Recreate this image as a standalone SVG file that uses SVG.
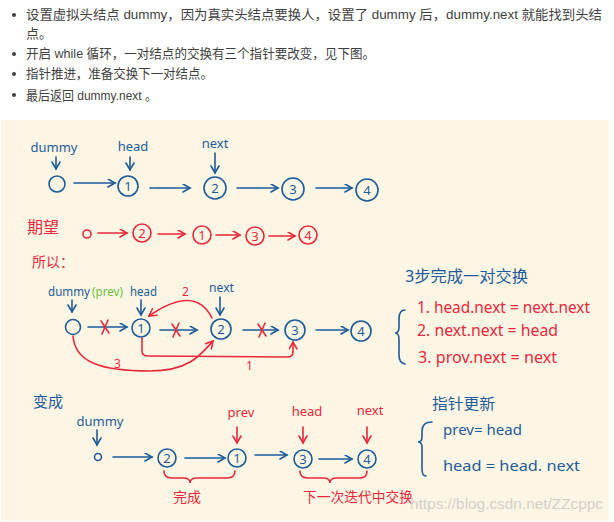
<svg xmlns="http://www.w3.org/2000/svg" width="614" height="522" viewBox="0 0 614 522">
<style>
.hd{font-family:"Liberation Sans","Noto Sans CJK SC",sans-serif;font-size:13px;fill:#3f3f3f}
.b{fill:#1d5b9a}
.r{fill:#e8293b}
.g{fill:#6dbf3d}
.t{font-family:"Noto Sans","Noto Sans CJK SC",sans-serif}
.lb{font-family:"Noto Sans","Noto Sans CJK SC",sans-serif;font-size:13px;text-anchor:middle}
.nb circle{fill:none;stroke:#1d5b9a;stroke-width:1.6}
.nr circle{fill:none;stroke:#e8293b;stroke-width:1.6}
.nb text,.nr text{font-family:"Noto Sans",sans-serif;font-size:13px;text-anchor:middle}
.nb text{fill:#1d5b9a}
.nr text{fill:#e8293b}
.cb{stroke:#1d5b9a;stroke-width:1.6;fill:none;stroke-linecap:round;marker-end:url(#ab)}
.cr{stroke:#e8293b;stroke-width:1.6;fill:none;stroke-linecap:round;marker-end:url(#ar)}
.x{stroke:#e8293b;stroke-width:1.6;stroke-linecap:round}
.br{stroke:#1d5b9a;stroke-width:1.6;fill:none;stroke-linecap:round}
.brr{stroke:#e8293b;stroke-width:1.6;fill:none;stroke-linecap:round}
</style>
<defs>
<marker id="ab" markerUnits="userSpaceOnUse" markerWidth="12" markerHeight="12" refX="8" refY="4.5" orient="auto"><path d="M1,0.5 L8,4.5 L1,8.5" fill="none" stroke="#1d5b9a" stroke-width="1.6" stroke-linecap="round"/></marker>
<marker id="ar" markerUnits="userSpaceOnUse" markerWidth="12" markerHeight="12" refX="8" refY="4.5" orient="auto"><path d="M1,0.5 L8,4.5 L1,8.5" fill="none" stroke="#e8293b" stroke-width="1.6" stroke-linecap="round"/></marker>
</defs>
<rect width="614" height="522" fill="#ffffff"/>
<g id="header">
<circle cx="14" cy="15" r="2" fill="#3f3f3f"/>
<text class="hd" x="26" y="19" textLength="576" lengthAdjust="spacingAndGlyphs">设置虚拟头结点 dummy，因为真实头结点要换人，设置了 dummy 后，dummy.next 就能找到头结</text>
<text class="hd" x="26" y="38">点。</text>
<circle cx="14" cy="54" r="2" fill="#3f3f3f"/>
<text class="hd" x="26" y="58" textLength="349" lengthAdjust="spacingAndGlyphs">开启 while 循环，一对结点的交换有三个指针要改变，见下图。</text>
<circle cx="14" cy="74" r="2" fill="#3f3f3f"/>
<text class="hd" x="26" y="78" textLength="187" lengthAdjust="spacingAndGlyphs">指针推进，准备交换下一对结点。</text>
<circle cx="14" cy="95" r="2" fill="#3f3f3f"/>
<text class="hd" x="26" y="100" textLength="131" lengthAdjust="spacingAndGlyphs">最后返回 dummy.next 。</text>
</g>
<rect x="1" y="120" width="608" height="401" fill="#fdf6e5"/>

<g id="labels">
<text class="lb b" x="54" y="152">dummy</text>
<text class="lb b" x="133" y="151">head</text>
<text class="lb b" x="215" y="148">next</text>
<text class="t r" x="27" y="233" font-size="16">期望</text>
<text class="t r" x="32" y="267" font-size="14">所以：</text>
<text class="t b" x="48" y="296" font-size="13" textLength="42" lengthAdjust="spacingAndGlyphs">dummy</text>
<text class="t g" x="92" y="296" font-size="13" textLength="31" lengthAdjust="spacingAndGlyphs">(prev)</text>
<text class="t b" x="130" y="296" font-size="13" textLength="27" lengthAdjust="spacingAndGlyphs">head</text>
<text class="t b" x="209" y="292" font-size="13" textLength="25" lengthAdjust="spacingAndGlyphs">next</text>
<text class="t r" x="182" y="296" font-size="12">2</text>
<text class="t r" x="246" y="370" font-size="12">1</text>
<text class="t r" x="114" y="368" font-size="12">3</text>
<text class="t b" x="405" y="282" font-size="15.5" textLength="123" lengthAdjust="spacingAndGlyphs">3步完成一对交换</text>
<text class="t r" x="417" y="313" font-size="16" textLength="173" lengthAdjust="spacingAndGlyphs">1. head.next = next.next</text>
<text class="t r" x="417" y="336" font-size="16" textLength="141" lengthAdjust="spacingAndGlyphs">2. next.next = head</text>
<text class="t r" x="418" y="363" font-size="16" textLength="139" lengthAdjust="spacingAndGlyphs">3. prov.next = next</text>
<text class="t b" x="33" y="407" font-size="15">变成</text>
<text class="lb b" x="100" y="426">dummy</text>
<text class="lb r" x="241" y="417">prev</text>
<text class="lb r" x="307" y="416">head</text>
<text class="lb r" x="370" y="415">next</text>
<text class="t r" x="173" y="502" font-size="14">完成</text>
<text class="t r" x="303" y="502" font-size="14" textLength="110" lengthAdjust="spacingAndGlyphs">下一次迭代中交换</text>
<text class="t b" x="432" y="409" font-size="15" textLength="63" lengthAdjust="spacingAndGlyphs">指针更新</text>
<text class="t b" x="443" y="435" font-size="15" textLength="79" lengthAdjust="spacingAndGlyphs">prev= head</text>
<text class="t b" x="443" y="471" font-size="15" textLength="137" lengthAdjust="spacingAndGlyphs">head = head. next</text>
</g>

<g id="braces">
<path class="br" d="M405,310 Q399,310 399,319 L399,327 Q399,333 395,333 Q399,333 399,339 L399,355 Q399,363 405,364"/>
<path class="br" d="M432,422 Q422,422 422,431 L422,437 Q422,442 418,442 Q422,442 422,447 L422,469 Q422,476 426,476"/>
<path class="brr" d="M164,471 Q164,478 172,478 L183,478 Q190,478 190,483 Q190,478 197,478 L227,478 Q235,478 235,471"/>
<path class="brr" d="M300,471 Q300,478 308,478 L323,478 Q330,478 330,483 Q330,478 337,478 L360,478 Q367,478 367,471"/>
</g>

<g id="row1">
<g id="r1n0" class="nb"><circle cx="57" cy="184" r="8"/></g>
<g id="r1n1" class="nb"><circle cx="128" cy="186" r="10"/><text x="128" y="191">1</text></g>
<g id="r1n2" class="nb"><circle cx="215" cy="188" r="11"/><text x="215" y="193">2</text></g>
<g id="r1n3" class="nb"><circle cx="293" cy="189" r="11"/><text x="293" y="194">3</text></g>
<g id="r1n4" class="nb"><circle cx="367" cy="190" r="11"/><text x="367" y="195">4</text></g>
</g>
<g id="row2">
<g id="r2n0" class="nr"><circle cx="87" cy="234" r="4"/></g>
<g id="r2n2" class="nr"><circle cx="142" cy="233" r="9"/><text x="142" y="238">2</text></g>
<g id="r2n1" class="nr"><circle cx="202" cy="235" r="9"/><text x="202" y="240">1</text></g>
<g id="r2n3" class="nr"><circle cx="255" cy="236" r="9"/><text x="255" y="241">3</text></g>
<g id="r2n4" class="nr"><circle cx="308" cy="235" r="9"/><text x="308" y="240">4</text></g>
</g>
<g id="row3">
<g id="r3n0" class="nb"><circle cx="73" cy="327" r="7.5"/></g>
<g id="r3n1" class="nb"><circle cx="141" cy="328" r="9"/><text x="141" y="333">1</text></g>
<g id="r3n2" class="nb"><circle cx="221" cy="329" r="10"/><text x="221" y="334">2</text></g>
<g id="r3n3" class="nb"><circle cx="295" cy="330" r="10"/><text x="295" y="335">3</text></g>
<g id="r3n4" class="nb"><circle cx="361" cy="331" r="10"/><text x="361" y="336">4</text></g>
</g>
<g id="row4">
<g id="r4n0" class="nb"><circle cx="98" cy="457" r="3.5"/></g>
<g id="r4n2" class="nb"><circle cx="167" cy="458" r="9"/><text x="167" y="463">2</text></g>
<g id="r4n1" class="nb"><circle cx="237" cy="458" r="9"/><text x="237" y="463">1</text></g>
<g id="r4n3" class="nb"><circle cx="303" cy="459" r="9"/><text x="303" y="464">3</text></g>
<g id="r4n4" class="nb"><circle cx="367" cy="459" r="9"/><text x="367" y="464">4</text></g>
</g>

<g id="connectors">
<line class="cb" x1="56" y1="157" x2="56" y2="169"/>
<line class="cb" x1="130" y1="157" x2="130" y2="170"/>
<line class="cb" x1="215" y1="153" x2="215" y2="173"/>
<line class="cb" x1="74" y1="183" x2="115" y2="183"/>
<line class="cb" x1="150" y1="188" x2="190" y2="188"/>
<line class="cb" x1="237" y1="188" x2="278" y2="188"/>
<line class="cb" x1="316" y1="188" x2="352" y2="188"/>

<line class="cr" x1="98" y1="233" x2="127" y2="233"/>
<line class="cr" x1="158" y1="234" x2="185" y2="234"/>
<line class="cr" x1="216" y1="235" x2="240" y2="235"/>
<line class="cr" x1="269" y1="236" x2="295" y2="236"/>

<line class="cb" x1="72" y1="300" x2="72" y2="312"/>
<line class="cb" x1="141" y1="300" x2="141" y2="315"/>
<line class="cb" x1="220" y1="297" x2="220" y2="315"/>
<line class="cb" x1="88" y1="327" x2="127" y2="327"/>
<line class="cb" x1="160" y1="330" x2="197" y2="330"/>
<line class="cb" x1="243" y1="330" x2="278" y2="330"/>
<line class="cb" x1="316" y1="330" x2="348" y2="330"/>
<path class="x" d="M101,321 L109,333 M108,320 L102,334"/>
<path class="x" d="M172,324 L180,336 M179,323 L173,337"/>
<path class="x" d="M258,324 L266,336 M265,323 L259,337"/>
<path class="cr" d="M212,318 Q195,284 149,316"/>
<path class="cr" d="M142,338 L142,351 Q142,356 148,356 L287,357 Q293,357 293,352 L293,342"/>
<path class="cr" d="M73,336 C75,362 100,371 150,371 C188,371 200,356 213,341"/>

<line class="cb" x1="97" y1="430" x2="97" y2="445"/>
<line class="cb" x1="113" y1="457" x2="152" y2="457"/>
<line class="cb" x1="185" y1="458" x2="225" y2="458"/>
<line class="cb" x1="255" y1="455" x2="287" y2="455"/>
<line class="cb" x1="319" y1="459" x2="352" y2="459"/>
<line class="cr" x1="237" y1="427" x2="237" y2="443"/>
<line class="cr" x1="303" y1="427" x2="303" y2="443"/>
<line class="cr" x1="367" y1="427" x2="367" y2="443"/>
</g>
<text x="410" y="509" font-family="Liberation Sans,sans-serif" font-size="15.5" fill="#d4d0c8" textLength="193" lengthAdjust="spacingAndGlyphs">https://blog.csdn.net/ZZcppc</text>
</svg>
